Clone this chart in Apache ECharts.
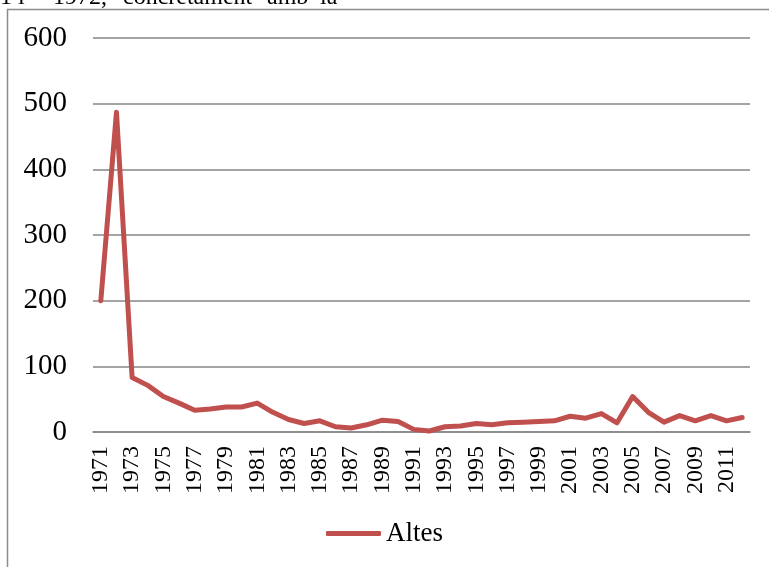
<!DOCTYPE html>
<html>
<head>
<meta charset="utf-8">
<script src="https://cdn.jsdelivr.net/npm/echarts@6/dist/echarts.min.js"></script>
<style>html,body{margin:0;padding:0;background:#fff}#c{width:769px;height:567px}</style>
</head>
<body>
<div id="c"></div>
<script>
const years = ["1971","1972","1973","1974","1975","1976","1977","1978","1979","1980","1981","1982","1983","1984","1985","1986","1987","1988","1989","1990","1991","1992","1993","1994","1995","1996","1997","1998","1999","2000","2001","2002","2003","2004","2005","2006","2007","2008","2009","2010","2011","2012"];
const altes = [200,487,83,71,54,44,33,35,38,38,44,30,19,13,17,8,6,11,18,16,4,1.5,8,9,13,11,14,15,16,17,24,21,28,14,54,30,15,25,17,25,17,22];
const seriesName = "Altes";
const yTicks = {min:0, max:600, interval:100};
const headerWords = [["1 i",0],["1972,",53],["concretament",123],["amb",267],["la",320]];

const chart = echarts.init(document.getElementById('c'));
const font = '"Liberation Serif", "Times New Roman", serif';
const graphics = [{
  type:'rect', shape:{x:7.5,y:9.5,width:800,height:600},
  style:{fill:'none',stroke:'#8c8c8c',lineWidth:1.5}, silent:true
}];
headerWords.forEach(([t,x]) => graphics.push({
  type:'text', left:x, top:-14,
  style:{text:t, font:'24px '+font, fill:'#000'}
}));
chart.setOption({
  animation:false,
  graphic: graphics,
  grid:{left:93,right:19,top:38,bottom:135},
  legend:{
    data:[seriesName], bottom:15, left:'center',
    itemWidth:55, itemHeight:5, itemGap:3,
    icon:'roundRect',
    textStyle:{fontFamily:font,fontSize:27,color:'#000'}
  },
  xAxis:{
    type:'category', data:years, boundaryGap:true,
    axisLine:{lineStyle:{color:'#868686',width:1.5}},
    axisTick:{show:false},
    axisLabel:{rotate:90, interval:1, margin:14, fontFamily:font, fontSize:24, color:'#000'}
  },
  yAxis:{
    type:'value', min:yTicks.min, max:yTicks.max, interval:yTicks.interval,
    axisLine:{show:false}, axisTick:{show:false},
    splitLine:{lineStyle:{color:'#868686',width:1.5}},
    axisLabel:{margin:26, fontFamily:font, fontSize:29, color:'#000'}
  },
  series:[{
    name:seriesName, type:'line', data:altes,
    symbol:'none', smooth:false,
    lineStyle:{color:'#C0504D',width:5,join:'round',cap:'round'},
    itemStyle:{color:'#C0504D'}
  }]
});
</script>
</body>
</html>
